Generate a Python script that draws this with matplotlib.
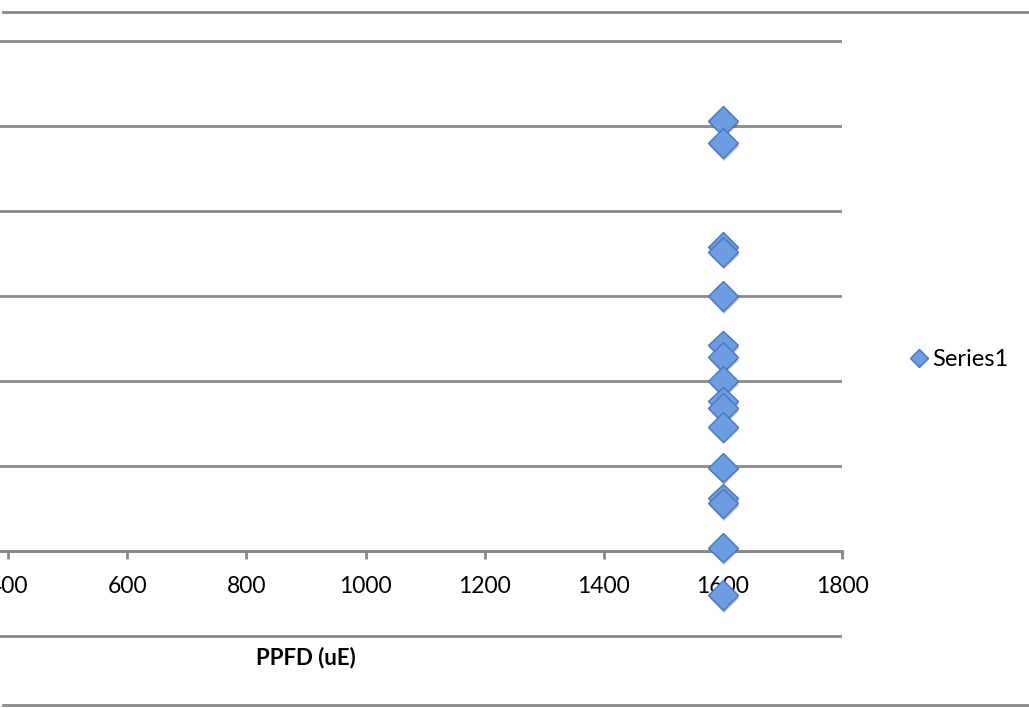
import matplotlib
matplotlib.use("Agg")
import matplotlib.pyplot as plt
import matplotlib.patheffects as pe
from matplotlib.lines import Line2D

# light response readings, all taken at the same PPFD
ppfd = [1600] * 16
rate = [25.3, 24.0, 17.9, 17.6, 15.0, 12.1, 11.4, 10.0,
        8.8, 8.4, 7.3, 4.9, 3.1, 2.8, 0.2, -2.6]
series_name = "Series1"
x_label = "PPFD (uE)"
x_ticks = [0, 200, 400, 600, 800, 1000, 1200, 1400, 1600, 1800]
y_ticks = [-5, 0, 5, 10, 15, 20, 25, 30]

W, H = 1029, 708
grid_col = "#8a8a8a"
face = "#6c9de0"
edge = "#4676c0"

plt.rcParams["font.family"] = ["Lato", "DejaVu Sans"]

fig = plt.figure(figsize=(W / 100, H / 100), dpi=100)
# plot area runs past the left edge of the canvas
ax = fig.add_axes([-230 / W, 55 / H, 1072 / W, 629 / H])
ax.set_xlim(0, 1800)
ax.set_ylim(-6, 31)

for s in ("left", "top", "right"):
    ax.spines[s].set_visible(False)
ax.spines["bottom"].set_position(("data", 0))
ax.spines["bottom"].set_color(grid_col)
ax.spines["bottom"].set_linewidth(2)

ax.set_xticks(x_ticks)
ax.set_yticks(y_ticks)
ax.tick_params(axis="x", direction="out", length=6, width=2, color=grid_col,
               labelsize=16.5, pad=12)
ax.tick_params(axis="y", left=False, labelleft=False)
ax.yaxis.grid(True, color=grid_col, linewidth=2)
ax.set_axisbelow(True)

ax.plot(ppfd, rate, linestyle="none", marker="D", markersize=15,
        markerfacecolor=face, markeredgecolor=edge, markeredgewidth=1,
        zorder=5, clip_on=False,
        path_effects=[pe.SimplePatchShadow(offset=(1, -2), alpha=0.3),
                      pe.Normal()])

ax.text(0.5, -5 / 629, x_label, transform=ax.transAxes, ha="center",
        va="center", fontsize=16, fontweight="bold")

# legend entry
fig.add_artist(Line2D([919 / W], [1 - 358 / H], marker="D", markersize=9,
                      markerfacecolor=face, markeredgecolor=edge,
                      transform=fig.transFigure))
fig.text(932 / W, 1 - 360 / H, series_name, ha="left", va="center",
         fontsize=17)

# outer frame lines
for py in (12, 705):
    fig.add_artist(Line2D([3 / W, 1], [1 - py / H] * 2, color=grid_col,
                          linewidth=2, transform=fig.transFigure))

fig.savefig("out.png", dpi=100)
